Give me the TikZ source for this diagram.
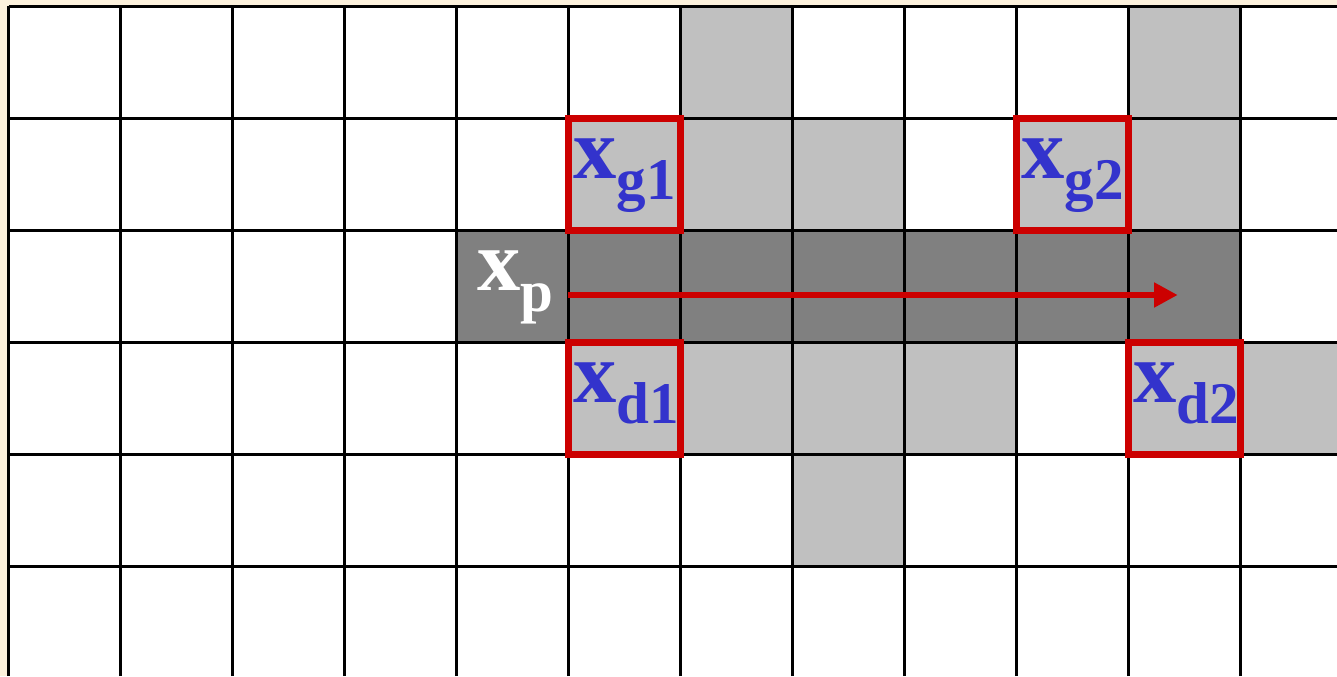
\documentclass[tikz,border=0pt]{standalone}
\usepackage{fontspec}
\setmainfont{Liberation Serif}
\usetikzlibrary{arrows.meta}

\definecolor{fondo}{HTML}{FCF1DC}
\definecolor{grisclaro}{HTML}{C0C0C0}
\definecolor{grisoscuro}{HTML}{808080}
\definecolor{rojo}{HTML}{CC0000}
\definecolor{azul}{HTML}{3333CC}

\newcommand{\etiq}[2]{\fontsize{22}{22}\selectfont\bfseries #1\raisebox{-5.3pt}{\fontsize{15}{15}\selectfont #2}}

\begin{document}
\begin{tikzpicture}[
        rejilla/.style={line width=0.8pt, black},
        caja/.style={line width=2pt, rojo},
        flecha/.style={line width=1.5pt, rojo, -{Triangle[length=6pt, width=6pt]}},
        etiqueta/.style={anchor=base west, inner sep=0pt}]
        % Fondo y marco
        \useasboundingbox (-0.076, 0.058) rectangle (11.862, -5.978);
        \fill[fondo] (-0.076, 0.058) rectangle (11.862, -5.978);
        \fill[white] (0, 0) rectangle (11.862, -5.978);

        % Celdas grises claras
        \fill[grisclaro] (6, 0) rectangle (7, -1);
        \fill[grisclaro] (10, 0) rectangle (11, -1);
        \fill[grisclaro] (5, -1) rectangle (8, -2);
        \fill[grisclaro] (9, -1) rectangle (11, -2);
        \fill[grisclaro] (5, -3) rectangle (9, -4);
        \fill[grisclaro] (10, -3) rectangle (11.862, -4);
        \fill[grisclaro] (7, -4) rectangle (8, -5);

        % Fila del punto x_p
        \fill[grisoscuro] (4, -2) rectangle (11, -3);

        % Rejilla
        \draw[rejilla] (0, -5.978) grid (11.862, 0);

        % Cajas rojas de los vecinos
        \draw[caja] (5, -1) rectangle (6, -2);
        \draw[caja] (9, -1) rectangle (10, -2);
        \draw[caja] (5, -3) rectangle (6, -4);
        \draw[caja] (10, -3) rectangle (11, -4);

        % Flecha de recorrido
        \coordinate (inicio) at (5, -2.576);
        \coordinate (fin) at (10.44, -2.576);
        \draw[flecha] (inicio) -- (fin);

        % Etiquetas
        \node[etiqueta, text=white] (xp) at (4.18, -2.54) {\etiq{x}{p}};
        \node[etiqueta, text=azul] (xg1) at (5.036, -1.54) {\etiq{x}{g1}};
        \node[etiqueta, text=azul] (xg2) at (9.036, -1.54) {\etiq{x}{g2}};
        \node[etiqueta, text=azul] (xd1) at (5.036, -3.54) {\etiq{x}{d1}};
        \node[etiqueta, text=azul] (xd2) at (10.036, -3.54) {\etiq{x}{d2}};

    \end{tikzpicture}
\end{document}
